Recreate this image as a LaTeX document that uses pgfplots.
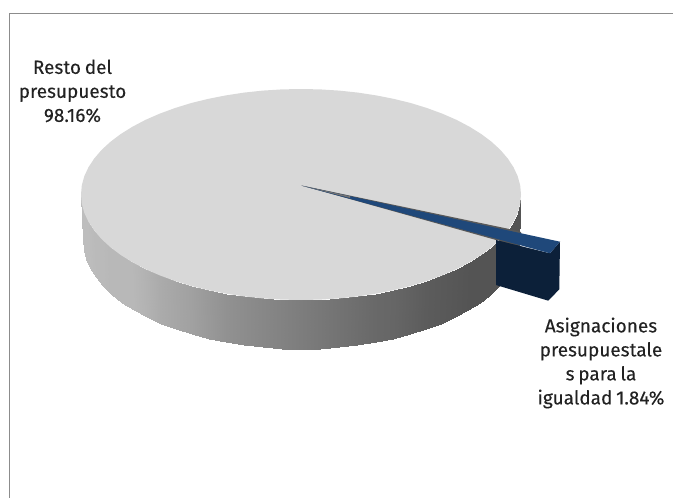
\documentclass[border=0pt]{standalone}
\usepackage{pgfplots}
\pgfplotsset{compat=1.18}
\usepackage{fontspec}
\setmainfont[WordSpace=0.75,FakeBold=0.15]{Fira Sans}
\definecolor{pietop}{RGB}{216,216,216}
\definecolor{wedgetop}{RGB}{31,72,122}
\definecolor{wedgeside}{RGB}{12,32,57}
\definecolor{labeltext}{RGB}{34,34,34}
\definecolor{framegray}{RGB}{140,140,140}

% outline of the pie's top face, pixels of the picture
\pgfplotstableread{
x y
81 194.5
81.8 203.7
84.3 212.8
88.5 221.8
94.3 230.6
101.6 239.1
110.5 247.25
120.8 255
132.5 262.3
145.4 269.1
159.6 275.3
174.8 280.9
191 285.9
208 290.1
225.8 293.6
244 296.4
262.8 298.4
281.8 299.6
301 300
320.2 299.6
339.2 298.4
358 296.4
376.2 293.6
394 290.1
411 285.9
427.2 280.9
442.4 275.3
456.6 269.1
469.5 262.3
481.2 255
491.5 247.25
500.4 239.1
507.7 230.6
513.5 221.8
517.7 212.8
520.2 203.7
521 194.5
520.2 185.3
517.7 176.2
513.5 167.2
507.7 158.4
500.4 149.9
491.5 141.75
481.2 134
469.5 126.7
456.6 119.9
442.4 113.7
427.2 108.1
411 103.1
394 98.9
376.2 95.4
358 92.6
339.2 90.6
320.2 89.4
301 89
281.8 89.4
262.8 90.6
244 92.6
225.8 95.4
208 98.9
191 103.1
174.8 108.1
159.6 113.7
145.4 119.9
132.5 126.7
120.8 134
110.5 141.75
101.6 149.9
94.3 158.4
88.5 167.2
84.3 176.2
81.8 185.3
}\pietop

% rim of the pie: upper arc then lower arc, with grey level
\pgfplotstableread{
x y c
81 194.5 0.74
81.8 203.7 0.74
84.3 212.8 0.74
88.5 221.8 0.74
94.3 230.6 0.73
101.6 239.1 0.73
110.5 247.25 0.72
120.8 255 0.72
132.5 262.3 0.72
145.4 269.1 0.70
159.6 275.3 0.67
174.8 280.9 0.65
191 285.9 0.63
208 290.1 0.60
225.8 293.6 0.57
244 296.4 0.55
262.8 298.4 0.53
281.8 299.6 0.51
301 300 0.49
320.2 299.6 0.47
339.2 298.4 0.45
358 296.4 0.43
376.2 293.6 0.41
394 290.1 0.40
411 285.9 0.38
427.2 280.9 0.36
442.4 275.3 0.35
456.6 269.1 0.34
469.5 262.3 0.33
481.2 255 0.33
491.5 247.25 0.33
500.4 239.1 0.33
507.7 230.6 0.33
513.5 221.8 0.33
517.7 212.8 0.33
520.2 203.7 0.33
521 194.5 0.33
83 240 0.74
83.8 249.5 0.74
86.3 258.9 0.74
90.4 268.2 0.74
96.2 277.3 0.73
103.4 286.1 0.73
112.2 294.5 0.72
122.4 302.5 0.72
134 310 0.72
146.8 317.1 0.70
160.9 323.5 0.67
175.9 329.3 0.65
192 334.4 0.63
208.8 338.8 0.60
226.5 342.4 0.57
244.5 345.3 0.55
263.1 347.3 0.53
282 348.6 0.51
301 349 0.49
320 348.6 0.47
338.9 347.3 0.45
357.5 345.3 0.43
375.5 342.4 0.41
393.2 338.8 0.40
410 334.4 0.38
426.1 329.3 0.36
441.1 323.5 0.35
455.2 317.1 0.34
468 310 0.33
479.6 302.5 0.33
489.8 294.5 0.33
498.6 286.1 0.33
505.8 277.3 0.33
511.6 268.2 0.33
515.7 258.9 0.33
518.2 249.5 0.33
519 240 0.33
}\pierim

\begin{document}
\begin{tikzpicture}
\begin{axis}[
    scale only axis,
    width=673pt, height=498pt,
    xmin=0, xmax=673, ymin=0, ymax=498,
    y dir=reverse,
    hide axis,
    clip=true,
    colormap={rim}{gray(0cm)=(0.33); gray(1cm)=(0.74)},
    point meta min=0.33, point meta max=0.74,
]
% chart frame
\addplot[framegray, line width=1pt] coordinates {(9.5,498) (9.5,13.5) (673,13.5)};

\addplot[surf, shader=interp, mesh/rows=2, mesh/cols=37, point meta=\thisrow{c}] table[x=x, y=y] {\pierim};
\addplot[fill=pietop, draw=none] table[x=x, y=y] {\pietop} -- cycle;

% wall of the slice's gap
\addplot[fill=black!65, draw=none] coordinates {(301.7,185.5) (508.3,228.8) (521,232) (521,240) (496,240)} -- cycle;
% pulled-out slice: front and end faces as one shape, then the top face
\addplot[fill=wedgeside, draw=none] coordinates {(496,240) (550,253.3) (560,241.7) (559.3,289.3) (548.3,300.7) (496,285)} -- cycle;
\addplot[fill=wedgetop, draw=none] coordinates {(301.7,185.7) (560,241.7) (550,253.3)} -- cycle;
% the point of the slice fades to grey
\addplot[fill=black!55, draw=none] coordinates {(301.7,185.7) (350,196.2) (350,198)} -- cycle;

\node[align=center, font=\fontsize{19}{24}\selectfont, text=labeltext] at (axis cs:72.5,91) {Resto del\\presupuesto\\98.16\%};
\node[align=center, font=\fontsize{19}{24}\selectfont, text=labeltext] at (axis cs:601,363) {Asignaciones\\presupuestale\\s para la\\igualdad 1.84\%};
% keep the whole canvas in the page
\path (axis cs:0,0) rectangle (axis cs:673,498);
\end{axis}
\end{tikzpicture}
\end{document}
